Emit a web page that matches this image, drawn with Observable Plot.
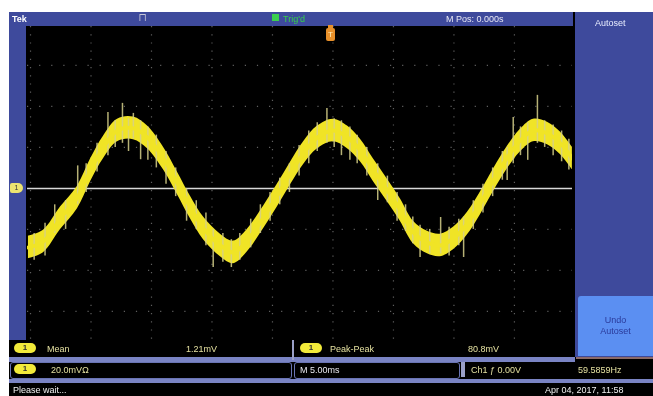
<!DOCTYPE html>
<html>
<head>
<meta charset="utf-8">
<script src="https://cdn.jsdelivr.net/npm/d3@7"></script>
<script src="https://cdn.jsdelivr.net/npm/@observablehq/plot@0.6"></script>
<style>
  html, body { margin: 0; padding: 0; background: #fff; }
  #page { position: relative; width: 653px; height: 396px; overflow: hidden; background: #fff;
          font-family: "Liberation Sans", Arial, sans-serif; font-size: 9px; filter: blur(0.35px); }
  .abs { position: absolute; }
  .blue { background: #3e4a9c; }
  .txt { position: absolute; white-space: nowrap; line-height: 10px; }
  .pill { position: absolute; width: 22px; height: 10px; border-radius: 5px; background: #f2ea3a;
          color: #333; font-size: 8px; line-height: 10px; text-align: center; font-weight: bold; }
  .box { position: absolute; background: #000; border: 1px solid #6a74b4; border-radius: 3px; }
  #plot { position: absolute; left: 27px; top: 26px; }
</style>
</head>
<body>
<div id="page">
  <!-- scope frame -->
  <div class="abs" style="left:9px;top:12px;width:644px;height:384px;background:#000"></div>
  <div class="abs blue" style="left:9px;top:12px;width:564px;height:14px"></div>
  <div class="abs blue" style="left:9px;top:12px;width:17px;height:328px"></div>
  <div class="abs blue" style="left:575px;top:12px;width:78px;height:345px"></div>
  <div class="abs" style="left:578px;top:296px;width:75px;height:60px;background:#5b8ff2;border-radius:3px 0 0 0"></div>
  <div class="abs" style="left:576px;top:357px;width:77px;height:2px;background:#8a6a6a"></div>
  <div id="plot"></div>
  <!-- rows -->
  <div class="abs" style="left:9px;top:340px;width:566px;height:17px;background:#000"></div>
  <div class="abs" style="left:9px;top:357px;width:566px;height:5px;background:#7a84c4"></div>
  <div class="box" style="left:10px;top:362px;width:280px;height:15px"></div>
  <div class="box" style="left:294px;top:362px;width:164px;height:15px"></div>
  <div class="abs" style="left:461px;top:362px;width:4px;height:15px;background:#9aa0c8"></div>
  <div class="abs" style="left:9px;top:379px;width:644px;height:4px;background:#7a84c4"></div>
  <div class="abs" style="left:292px;top:340px;width:2px;height:20px;background:#9aa0c8"></div>
  <div id="texts"></div>
</div>
<script>
// ---- waveform centre line (time in ms, level in mV) ----
const timeMs  = [-0.17, 1.07, 2.48, 3.88, 4.96, 6.03, 7.19, 8.51, 9.67, 10.99, 12.15, 13.22, 14.30, 15.70, 16.78,
                 17.93, 19.26, 20.41, 21.49, 22.56, 23.72, 25.04, 26.20, 27.27, 28.35, 29.50, 30.58, 31.65, 32.81,
                 33.88, 34.96, 36.12, 37.19, 38.26, 39.42, 40.50, 41.57, 42.73, 43.80, 44.79];
const levelMv = [-28.8, -25.9, -14.6, -4.4, 8.8, 20.0, 28.3, 29.3, 24.9, 14.6, 2.4, -9.3, -19.5, -27.8, -31.2,
                 -25.4, -14.2, -3.4, 7.3, 17.1, 24.9, 28.3, 24.9, 18.5, 8.8, -1.0, -10.7, -21.5, -26.4,
                 -27.8, -24.4, -17.1, -7.3, 3.9, 15.1, 23.4, 28.3, 26.8, 22.0, 14.6];
const noiseHalfMv = 5.5;
// ---- noise spikes (time ms, low mV, high mV) ----
const spikeTimeMs = [0.3, 1.2, 2.0, 2.9, 3.9, 4.6, 5.5, 6.4, 7.0, 7.6, 8.1, 8.5, 9.1, 9.7, 10.4, 11.2, 12.0, 12.9,
                     13.7, 14.5, 15.1, 15.9, 16.6, 17.3, 18.2, 19.0, 19.8, 20.6, 21.4, 22.2, 23.0, 23.7, 24.5, 25.1,
                     25.7, 26.4, 27.0, 27.8, 28.7, 29.5, 30.3, 31.0, 31.6, 32.2, 33.0, 33.9, 34.6, 35.4, 35.8, 36.6,
                     37.4, 38.2, 39.0, 39.4, 39.9, 40.5, 41.1, 41.9, 42.5, 43.2, 43.9, 44.5];
const spikeLowMv  = [-35, -33, -22, -20, -8, -2, 8, 16, 20, 22, 18, 24, 14, 13.7, 10, 2, -4, -16,
                     -20, -28, -38.6, -36, -38.6, -35, -29, -22, -16, -8, -2, 6, 12, 18, 22, 20,
                     16, 13.7, 12, 6, -5.9, -7, -16, -21, -27, -33.7, -32, -32, -33, -28, -33.7, -20,
                     -12, -4, 4, 3.9, 12, 16, 13.7, 22, 20, 16, 13, 9];
const spikeHighMv = [-22, -17, -8, -6, 11, 12, 22, 37, 33, 41.5, 34, 36.6, 33, 30, 26, 18, 10, 0,
                     -6, -12, -20, -22, -25, -22, -15, -8, -2, 5, 12, 21, 28, 32, 39, 34,
                     33, 30, 26, 20, 12, 6, -2, -8, -14, -18, -20, -14.2, -19, -15, -14, -6,
                     2, 10, 18, 20, 34.6, 30, 32, 45.4, 33, 31, 28, 24];
// ---- graticule ----
const gridTimesMs = [0, 5, 10, 15, 20, 25, 30, 35, 40];
const gridLevelsMv = [-60, -40, -20, 20, 40, 60];
const zeroLevelMv = [0];

// ---- screen texts ----
const topTexts = [
  {text: "Tek", x: 12, y: 14, color: "#ffffff", bold: true},
  {text: "Trig'd", x: 283, y: 14, color: "#36d04a"},
  {text: "M Pos: 0.000s", x: 446, y: 14, color: "#e8e8f4"},
  {text: "Autoset", x: 595, y: 18, color: "#e8ecff"}
];
const measureTexts = [
  {text: "Mean", x: 47, y: 344, color: "#e4e0a0"},
  {text: "1.21mV", x: 186, y: 344, color: "#e4e0a0"},
  {text: "Peak-Peak", x: 330, y: 344, color: "#e4e0a0"},
  {text: "80.8mV", x: 468, y: 344, color: "#e4e0a0"},
  {text: "20.0mV\u2126", x: 51, y: 365, color: "#e4e0a0"},
  {text: "M 5.00ms", x: 300, y: 365, color: "#e8e8f0"},
  {text: "Ch1 \u0192 0.00V", x: 471, y: 365, color: "#e4e0a0"},
  {text: "59.5859Hz", x: 578, y: 365, color: "#e4e0a0"},
  {text: "Please wait...", x: 13, y: 385, color: "#f0f0f0"},
  {text: "Apr 04, 2017, 11:58", x: 545, y: 385, color: "#f0f0f0"}
];
const pillPositions = [{x: 14, y: 343}, {x: 300, y: 343}, {x: 14, y: 364}];

const trace = timeMs.map((t, i) => ({t, v: levelMv[i]}));
const spikes = spikeTimeMs.map((t, i) => ({t, lo: spikeLowMv[i], hi: spikeHighMv[i]}));

const chart = Plot.plot({
  width: 545,
  height: 314,
  margin: 0,
  x: {domain: [-0.25, 44.8], axis: null},
  y: {domain: [-74.2, 79.0], axis: null},
  style: {background: "#000"},
  marks: [
    Plot.ruleX(gridTimesMs, {stroke: "#5e5e5e", strokeWidth: 1.2, strokeDasharray: "1.2,7"}),
    Plot.ruleY(gridLevelsMv, {stroke: "#5e5e5e", strokeWidth: 1.2, strokeDasharray: "1.2,10.9"}),
    Plot.ruleY(zeroLevelMv, {stroke: "#d8d8d8", strokeWidth: 1.5}),
    Plot.areaY(trace, {x: "t", y1: d => d.v - noiseHalfMv, y2: d => d.v + noiseHalfMv, fill: "#f0e426", curve: "catmull-rom"}),
    Plot.ruleX(spikes, {x: "t", y1: "lo", y2: "hi", stroke: "#d6d08a", strokeWidth: 1.5, strokeOpacity: 0.85}),
    Plot.lineY(trace, {x: "t", y: "v", stroke: "#f0e426", strokeWidth: 4, curve: "catmull-rom"})
  ]
});
document.getElementById("plot").appendChild(chart);

// texts and markers
const page = document.getElementById("texts");
for (const d of topTexts.concat(measureTexts)) {
  const el = document.createElement("div");
  el.className = "txt";
  el.textContent = d.text;
  el.style.left = d.x + "px"; el.style.top = d.y + "px"; el.style.color = d.color;
  if (d.bold) el.style.fontWeight = "bold";
  page.appendChild(el);
}
for (const p of pillPositions) {
  const el = document.createElement("div");
  el.className = "pill"; el.textContent = "1";
  el.style.left = p.x + "px"; el.style.top = p.y + "px";
  page.appendChild(el);
}
// channel marker, trigger marker, green square, undo text
const extras = [
  `<div class="abs" style="left:10px;top:183px;width:13px;height:10px;background:#ece470;border-radius:2px 5px 5px 2px;color:#333;font-size:7px;line-height:10px;text-align:center">1</div>`,
  `<div class="abs" style="left:326px;top:28px;width:9px;height:13px;background:#e8902a;border-radius:2px;color:#fff2c0;font-size:8px;line-height:13px;text-align:center">T</div>`,
  `<div class="abs" style="left:328px;top:25px;width:5px;height:3px;background:#e8902a"></div>`,
  `<div class="abs" style="left:272px;top:14px;width:7px;height:7px;background:#3cd050"></div>`,
  `<div class="txt" style="left:139px;top:13px;color:#c8c8d8">&#x2a05;</div>`,
  `<div class="txt" style="left:578px;top:315px;width:75px;text-align:center;color:#2a3a9a;line-height:11px">Undo<br>Autoset</div>`
];
page.insertAdjacentHTML("beforeend", extras.join(""));
</script>
</body>
</html>
